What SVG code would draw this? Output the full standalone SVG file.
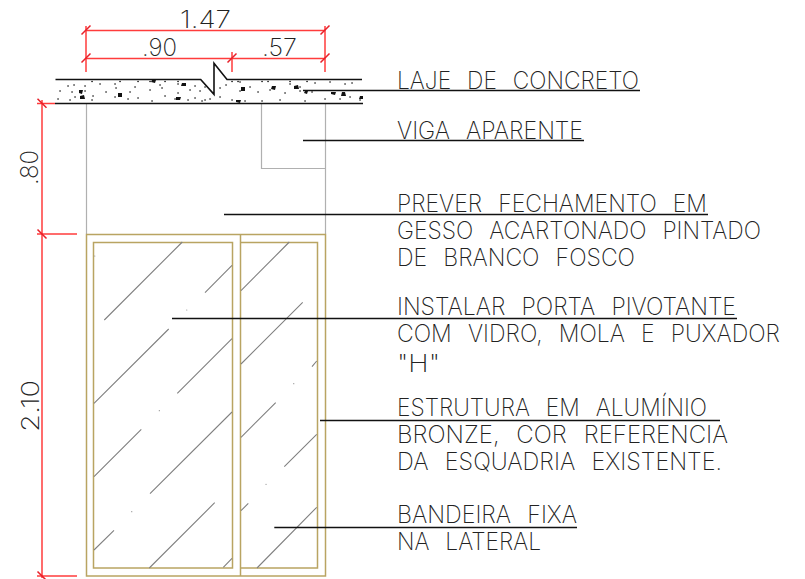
<svg xmlns="http://www.w3.org/2000/svg" width="805" height="579" viewBox="0 0 805 579">
<style>
text{font-family:"Inter","Liberation Sans",sans-serif;font-weight:200;font-size:24px;fill:#222;word-spacing:10px}
.dim{fill:none;stroke:#ff3c3c;stroke-width:1.5}
.tick{fill:none;stroke:#e8202a;stroke-width:1.5}
.grey{fill:none;stroke:#b0b0b0;stroke-width:1.2}
.gold{fill:none;stroke:#b9a462;stroke-width:1.5}
.hatch{fill:none;stroke:#808080;stroke-width:1.1}
.leader{fill:none;stroke:#111;stroke-width:1.3}
.slab{fill:none;stroke:#111;stroke-width:1.6}
.dots{fill:none;stroke:#111;stroke-width:1.6;stroke-linecap:round}
.pin{fill:none;stroke:#999;stroke-width:1.2;stroke-linecap:round}
.tri{fill:#111}
</style>
<g id="guides">
<path class="grey" d="M86.500 103V234M325.500 103V234M261.500 103V168.500H325"/>
</g>
<g id="slab">
<path class="slab" d="M55.500 79.500H200.700L214 94.300V63.300L227 79.500H362M55 103.500H363"/>
<path class="dots" d="M92 81.500h.1M120 81.500h.1M138 81.500h.1M150 81.500h.1M165 81.500h.1M178 81.500h.1M232 81.500h.1M238 81.500h.1M262 81.500h.1M268 81.500h.1M290 81.500h.1M307 81.500h.1M68 86h.1M74 85h.1M85 86h.1M100 84h.1M115 84h.1M135 87h.1M160 85h.1M178 84h.1M195 86h.1M205 87h.1M226 85h.1M240 82h.1M250 87h.1M290 84h.1M300 87h.1M315 83h.1M330 82h.1M345 84h.1M352 83h.1M60 91h.1M72 92h.1M85 91h.1M106 92h.1M116 88h.1M130 92h.1M150 90h.1M162 88h.1M178 93h.1M190 90h.1M200 91h.1M220 88h.1M240 91h.1M258 92h.1M270 90h.1M285 93h.1M300 91h.1M312 92h.1M58 99h.1M70 100h.1M75 97h.1M92 100h.1M93 96h.1M115 97h.1M128 99h.1M138 98h.1M152 101h.1M165 96h.1M175 99h.1M188 100h.1M202 101h.1M210 99h.1M220 97h.1M232 100h.1M245 101h.1M262 101h.1M280 100h.1M305 101h.1M325 99h.1M340 99h.1M350 97h.1M360 100h.1M205 100h.1M195 98h.1"/>
<path class="tri" d="M79 90l4 0-1 4-3-1zM152 80l4 0-1 3-4-1zM182 83l4 0 0 3-5 0zM118 93l4 0 0 4-4 0zM241 87l4 0 0 4-4 0zM272 86l4 0-1 4-4-1zM294 86l4-1 1 4-5 0zM176 97l5 0-1 3-4 0zM236 100l5 0-1 3-4-1zM80 96l4-1 1 4-5 0zM331 92l5 0-1 3-4-1zM342 92l3 0 1 4-5 0zM360 96l3 0 0 3-4 0zM305 91l3 0-1 3-3-1z"/>
</g>
<g id="door">
<rect class="gold" x="86.500" y="234.500" width="239" height="341.500"/>
<path class="gold" d="M240.500 234.500V576"/>
<rect class="gold" x="93.500" y="242.500" width="139" height="325.500"/>
<path class="gold" d="M241 242.500H317.500V568H241"/>
<path class="hatch" d="M104.300 320L182.300 242M205 292.700L232 265.300M241 290.700L289.300 242M94 403.300L168.700 329M177.300 393.300L232 338.700M241 364L302.700 302.300M312 366.700L316.700 361M94 476.700L141.300 429.300M150 493.700L232 412M241 437.300L275.700 402.700M284.300 466.700L316.700 434.300M94 550L114 530.300M149.300 568L214.700 502.700M223.300 567.300L232 558.300M241 510.700L248.300 503.300M257 568L316.700 507.300"/>
<path class="pin" d="M94.700 256h.1M186.700 310h.1M293.700 383.700h.1M159.300 410.700h.1M131.700 511.700h.1M266 484.300h.1"/>
</g>
<g id="connectors">
<path class="leader" d="M303 90.500H640M303 140.500H584M224 214.500H708M172 318.500H737M320 420.500H720M274.300 527.500H577"/>
</g>
<g id="dimensions">
<path class="dim" d="M86 30.500H325M86 58.500H325M86 26V72M232 52V72M325 26V72M42 100V578M37 103.500H55M37 234H77M37 576H77"/>
<path class="tick" d="M81.500 34.500L90.500 25.500M81.500 62.500L90.500 53.500M227.500 62.500L236.500 53.500M320.500 34.500L329.500 25.500M320.500 62.500L329.500 53.500M37.500 98.800L46.500 107.800M37.500 229.500L46.500 238.500M37.500 571.500L46.500 580.500"/>
<text x="180" y="28" textLength="51" lengthAdjust="spacingAndGlyphs">1.47</text>
<text x="142" y="56" textLength="35" lengthAdjust="spacingAndGlyphs">.90</text>
<text x="262" y="56" textLength="35" lengthAdjust="spacingAndGlyphs">.57</text>
<text transform="translate(38 185) rotate(-90)" textLength="35" lengthAdjust="spacingAndGlyphs">.80</text>
<text transform="translate(39 432) rotate(-90)" textLength="52" lengthAdjust="spacingAndGlyphs">2.10</text>
</g>
<g id="note-laje"><text x="397" y="89" textLength="242" lengthAdjust="spacingAndGlyphs">LAJE DE CONCRETO</text></g>
<g id="note-viga"><text x="397" y="139" textLength="186" lengthAdjust="spacingAndGlyphs">VIGA APARENTE</text></g>
<g id="note-fechamento">
<text x="397" y="212" textLength="310" lengthAdjust="spacingAndGlyphs">PREVER FECHAMENTO EM</text>
<text x="397" y="239" textLength="364" lengthAdjust="spacingAndGlyphs">GESSO ACARTONADO PINTADO</text>
<text x="397" y="266" textLength="238" lengthAdjust="spacingAndGlyphs">DE BRANCO FOSCO</text>
</g>
<g id="note-porta">
<text x="397" y="315" textLength="339" lengthAdjust="spacingAndGlyphs">INSTALAR PORTA PIVOTANTE</text>
<text x="397" y="342" textLength="383" lengthAdjust="spacingAndGlyphs">COM VIDRO, MOLA E PUXADOR</text>
<text x="397" y="372" textLength="43" lengthAdjust="spacingAndGlyphs">"H"</text>
</g>
<g id="note-estrutura">
<text x="397" y="416" textLength="310" lengthAdjust="spacingAndGlyphs">ESTRUTURA EM ALUMÍNIO</text>
<text x="397" y="443" textLength="331" lengthAdjust="spacingAndGlyphs">BRONZE, COR REFERENCIA</text>
<text x="397" y="470" textLength="325" lengthAdjust="spacingAndGlyphs">DA ESQUADRIA EXISTENTE.</text>
</g>
<g id="note-bandeira">
<text x="397" y="523" textLength="180" lengthAdjust="spacingAndGlyphs">BANDEIRA FIXA</text>
<text x="397" y="550" textLength="144" lengthAdjust="spacingAndGlyphs">NA LATERAL</text>
</g>
</svg>
